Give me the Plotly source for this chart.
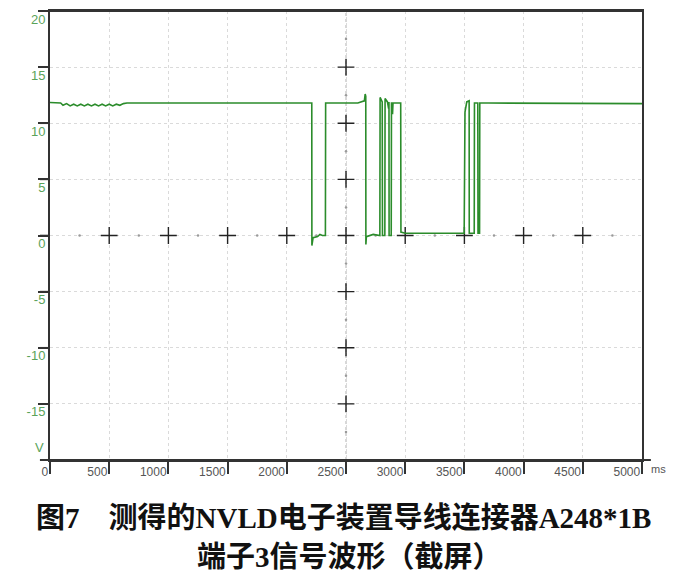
import plotly.graph_objects as go

# ---- data (time in ms, voltage in V) ----
t_ms = [0, 90, 110, 140, 170, 200, 230, 260, 290, 320, 350, 380, 410, 440, 470,
        500, 530, 560, 590, 620, 650, 1200, 2205,
        2211, 2212, 2222, 2260, 2280, 2300, 2326,
        2328, 2400, 2600, 2655, 2662, 2667,
        2668, 2672, 2730, 2786,
        2788, 2800, 2806,
        2808, 2828,
        2830, 2850, 2860, 2863,
        2864, 2882,
        2884, 2890, 2893, 2897, 2962,
        2964, 3000, 3200, 3498,
        3505, 3520, 3540,
        3541, 3583,
        3585, 3613,
        3615, 3628,
        3630, 3700, 4200, 5000]
volts = [11.85, 11.8, 11.6, 11.75, 11.55, 11.7, 11.55, 11.7, 11.55, 11.7, 11.55, 11.7, 11.55, 11.7, 11.55,
         11.7, 11.55, 11.7, 11.6, 11.75, 11.8, 11.8, 11.8,
         11.8, -0.9, -0.2, -0.1, 0.1, 0.0, 0.0,
         11.8, 11.8, 11.8, 12.0, 12.6, 12.4,
         -0.8, -0.1, 0.1, 0.0,
         12.3, 11.9, 11.9,
         0.0, 0.0,
         12.2, 11.9, 11.3, 11.9,
         0.0, 0.0,
         11.8, 11.8, 10.8, 11.8, 11.8,
         0.3, 0.2, 0.2, 0.2,
         11.0, 11.9, 12.0,
         0.2, 0.2,
         11.8, 11.8,
         0.2, 0.2,
         11.8, 11.8, 11.8, 11.75]

x_ticks = [0, 500, 1000, 1500, 2000, 2500, 3000, 3500, 4000, 4500, 5000]
x_tick_labels = ["0", "500", "1000", "1500", "2000", "2500", "3000", "3500", "4000", "4500", "5000"]
y_ticks = [-15, -10, -5, 0, 5, 10, 15, 20]
y_tick_labels = ["-15", "-10", "-5", "0", "5", "10", "15", "20"]

# crosshair marks along the centre axes
cross_x = [500, 1000, 1500, 2000, 2500, 3000, 3500, 4000, 4500, 2500, 2500, 2500, 2500, 2500, 2500]
cross_y = [0, 0, 0, 0, 0, 0, 0, 0, 0, -15, -10, -5, 5, 10, 15]
dot_x = [250, 750, 1250, 1750, 2250, 2750, 3250, 3750, 4250, 4750,
         2500, 2500, 2500, 2500, 2500, 2500, 2500, 2500]
dot_y = [0, 0, 0, 0, 0, 0, 0, 0, 0, 0,
         -17.5, -12.5, -7.5, -2.5, 2.5, 7.5, 12.5, 17.5]

caption_1 = "图7　测得的NVLD电子装置导线连接器A248*1B"
caption_2 = "端子3信号波形（截屏）"

fig = go.Figure()

fig.add_trace(go.Scatter(x=dot_x, y=dot_y, mode="markers",
                         marker=dict(symbol="circle", size=2.5, color="#9a9a9a"),
                         hoverinfo="skip", showlegend=False))
fig.add_trace(go.Scatter(x=cross_x, y=cross_y, mode="markers",
                         marker=dict(symbol="cross-thin", size=12,
                                     line=dict(width=1.4, color="#222222")),
                         hoverinfo="skip", showlegend=False))
fig.add_trace(go.Scatter(x=t_ms, y=volts, mode="lines",
                         line=dict(color="#2b8c2b", width=1.6),
                         showlegend=False))

# centre axes (dotted)
fig.add_shape(type="line", xref="x", yref="y", x0=2500, x1=2500, y0=-20, y1=20,
              line=dict(color="#b0b0b0", width=1, dash="dot"), layer="below")
fig.add_shape(type="line", xref="x", yref="y", x0=0, x1=5000, y0=0, y1=0,
              line=dict(color="#b0b0b0", width=1, dash="dot"), layer="below")
# extended bottom axis and top frame
fig.add_shape(type="line", xref="paper", yref="paper", x0=-0.017, x1=1.015, y0=0, y1=0,
              line=dict(color="#333333", width=2))
fig.add_shape(type="line", xref="paper", yref="paper", x0=-0.017, x1=1.0, y0=1, y1=1,
              line=dict(color="#333333", width=2))
# short y tick marks to the left of the axis
for yv in y_ticks[:-1]:
    fig.add_shape(type="line", xref="paper", yref="y", x0=-0.017, x1=0, y0=yv, y1=yv,
                  line=dict(color="#333333", width=1.6))

fig.add_annotation(text="V", xref="paper", yref="y", x=-0.006, y=-18.9,
                   xanchor="right", yanchor="middle", showarrow=False,
                   font=dict(family="Liberation Sans", size=13, color="#5aa35a"))
fig.add_annotation(text="ms", xref="paper", yref="paper", x=1.012, y=0,
                   xanchor="left", yanchor="top", yshift=-1, showarrow=False,
                   font=dict(family="Liberation Sans", size=11, color="#555555"))

cap_font = dict(family="Liberation Serif, Noto Sans CJK SC", size=29, color="#111111")
fig.add_annotation(text="<b>" + caption_1 + "</b>", xref="paper", yref="paper",
                   x=0.495, y=-0.129, xanchor="center", yanchor="middle",
                   showarrow=False, font=cap_font)
fig.add_annotation(text="<b>" + caption_2 + "</b>", xref="paper", yref="paper",
                   x=0.506, y=-0.216, xanchor="center", yanchor="middle",
                   showarrow=False, font=cap_font)

fig.update_xaxes(range=[0, 5000], tickvals=x_ticks, ticktext=x_tick_labels,
                 automargin=False,
                 ticks="outside", ticklen=12, tickwidth=1.6, tickcolor="#333333",
                 ticklabelposition="outside left",
                 showline=True, linecolor="#333333", linewidth=2, mirror=True,
                 showgrid=True, gridcolor="#dadada", griddash="dot", gridwidth=1,
                 zeroline=False,
                 tickfont=dict(family="Liberation Sans", size=12, color="#555555"))
fig.update_yaxes(range=[-20, 20], tickvals=y_ticks, ticktext=y_tick_labels,
                 automargin=False, ticklabeloverflow="allow",
                 ticks="outside", ticklen=10, tickwidth=1.6, tickcolor="#333333",
                 ticklabelshift=8, ticklabelstandoff=-10,
                 showline=True, linecolor="#333333", linewidth=2, mirror=True,
                 showgrid=True, gridcolor="#dadada", griddash="dot", gridwidth=1,
                 zeroline=False,
                 tickfont=dict(family="Liberation Sans", size=13, color="#5aa35a"))

fig.update_layout(width=681, height=587,
                  margin=dict(l=50, r=39, t=11, b=127),
                  paper_bgcolor="white", plot_bgcolor="white",
                  showlegend=False)

fig.write_html("out.html", config={"displayModeBar": False},
               post_script="document.body.style.margin='0px';")
